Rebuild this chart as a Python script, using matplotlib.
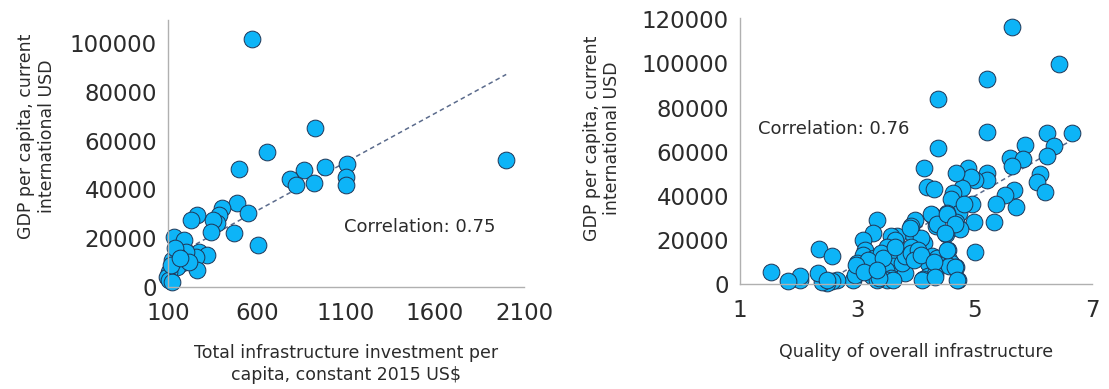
import matplotlib
matplotlib.use('Agg')
import matplotlib.pyplot as plt

# left panel: infrastructure investment per capita vs GDP per capita
invest_x = [571, 924, 658, 500, 2000, 981, 864, 783, 819, 920, 1106, 1098, 1098,
            490, 547, 406, 387, 378, 350, 340, 265, 228, 472, 603, 134, 190, 275,
            321, 256, 200, 152, 124, 181, 152, 265, 106, 96, 106, 124, 218, 140,
            115, 170]
invest_gdp = [101700, 65000, 55400, 48500, 51900, 49200, 48100, 44400, 41600, 42600,
              50200, 45100, 41900, 34300, 30200, 32200, 29500, 26100, 27500, 22700,
              29500, 27500, 22000, 17200, 20600, 19300, 14500, 13100, 12400, 14500,
              13100, 11100, 9700, 8300, 7000, 6300, 4200, 2900, 2200, 10400, 16000,
              9000, 12000]
invest_trend_x = [100, 2000]
invest_trend_y = [11300, 87100]

# right panel: quality of overall infrastructure vs GDP per capita
quality_x = [5.63, 6.43, 5.21, 4.37, 5.21, 6.66, 6.24, 4.37, 6.36, 5.86, 6.23, 5.60,
             5.83, 5.64, 6.11, 6.06, 6.20, 5.67, 5.70, 5.52, 5.37, 5.33, 5.21, 5.21,
             5.00, 4.88, 5.00, 4.93, 4.96, 4.99, 4.78, 4.69, 4.63, 4.60, 4.74, 4.69,
             4.75, 4.53, 4.51, 4.34, 4.27, 4.13, 4.18, 4.30, 3.99, 3.91, 3.94, 4.14,
             4.08, 3.91, 3.96, 4.09, 4.27, 4.36, 4.21, 4.20, 4.33, 4.12, 4.54, 4.57,
             4.60, 4.68, 4.71, 4.56, 3.67, 3.58, 3.64, 3.51, 3.64, 3.61, 3.49, 3.58,
             3.51, 3.82, 3.76, 3.82, 3.91, 3.33, 3.27, 3.10, 3.13, 3.10, 3.28, 3.34,
             3.40, 3.25, 3.34, 3.00, 2.93, 2.96, 2.66, 2.57, 2.48, 2.39, 2.33, 2.34,
             2.57, 2.03, 2.03, 1.82, 1.53, 3.19, 3.43, 4.03, 3.97, 2.97, 3.60, 3.37,
             3.90, 4.08, 4.30, 4.10, 4.33, 4.25, 4.36, 4.53, 4.67, 4.50, 4.53, 4.67,
             4.70, 4.81, 3.65, 3.11, 2.49, 3.34]
quality_gdp = [116500, 99600, 92900, 84000, 69000, 68600, 68600, 61700, 62700, 63000,
               58000, 57000, 56500, 53500, 49900, 46400, 41500, 42700, 34800, 40400,
               36200, 28300, 50200, 47200, 14500, 52500, 47200, 48700, 36300, 27900,
               43400, 50200, 41200, 38400, 32100, 27900, 24900, 32100, 22800, 26400,
               31400, 52500, 44200, 43000, 29100, 26100, 23100, 18800, 20800, 17000,
               13300, 12500, 12500, 11800, 9500, 3500, 4700, 2300, 15500, 11000,
               9500, 7700, 2000, 8000, 21600, 21600, 20000, 17000, 12500, 8000,
               6500, 2700, 2000, 5000, 9500, 12500, 14000, 29100, 23100, 20000,
               15500, 13300, 11800, 9500, 14000, 3500, 2000, 9500, 2000, 4200,
               2000, 1200, 450, 750, 5000, 15800, 12800, 2000, 3500, 1500,
               5300, 11000, 11800, 15500, 11000, 8600, 1800, 2600, 25200, 13200,
               10200, 1800, 3300, 31900, 27400, 31900, 27400, 23000, 15500, 7800,
               1800, 36400, 16800, 5600, 1800, 6300]
quality_trend_x = [2.4, 6.66]
quality_trend_y = [0, 65300]

dot_color = '#0db4f7'
edge_color = '#1f3556'
trend_color = '#5b6b8c'
text_color = '#2b2b2b'
spine_color = '#b0b0b0'

fig = plt.figure(figsize=(11.09, 3.89), dpi=100)
ax1 = fig.add_axes([168/1109, 102/389, 356/1109, 267/389])
ax2 = fig.add_axes([740/1109, 105/389, 352/1109, 266/389])


def style(ax):
    for s in ['top', 'right']:
        ax.spines[s].set_visible(False)
    for s in ['left', 'bottom']:
        ax.spines[s].set_color(spine_color)
        ax.spines[s].set_linewidth(1.0)
    ax.tick_params(axis='both', length=0, labelsize=16.5, labelcolor=text_color)
    ax.tick_params(axis='x', pad=11)
    ax.tick_params(axis='y', pad=8)


ax1.plot(invest_trend_x, invest_trend_y, color=trend_color, lw=1.1, dashes=(3, 2.2), zorder=1)
ax1.scatter(invest_x, invest_gdp, s=145, color=dot_color, edgecolor=edge_color,
            linewidth=0.7, zorder=2, clip_on=False)
ax1.set_xlim(100, 2100)
ax1.set_ylim(0, 109400)
ax1.set_xticks([100, 600, 1100, 1600, 2100])
ax1.set_yticks([0, 20000, 40000, 60000, 80000, 100000])
ax1.text(1086, 24700, 'Correlation: 0.75', fontsize=13, color=text_color, va='center')
style(ax1)

ax2.plot(quality_trend_x, quality_trend_y, color=trend_color, lw=1.1, dashes=(3, 2.2), zorder=1)
ax2.scatter(quality_x, quality_gdp, s=145, color=dot_color, edgecolor=edge_color,
            linewidth=0.7, zorder=2, clip_on=False)
ax2.set_xlim(1, 7)
ax2.set_ylim(0, 120600)
ax2.set_xticks([1, 3, 5, 7])
ax2.set_yticks([0, 20000, 40000, 60000, 80000, 100000, 120000])
ax2.text(1.31, 70400, 'Correlation: 0.76', fontsize=13, color=text_color, va='center')
style(ax2)

fig.text(36.5/1109, 1 - 136/389, 'GDP per capita, current\ninternational USD',
         rotation=90, ha='center', va='center', fontsize=12.5, color=text_color,
         linespacing=1.2)
fig.text(602/1109, 1 - 138/389, 'GDP per capita, current\ninternational USD',
         rotation=90, ha='center', va='center', fontsize=12.5, color=text_color,
         linespacing=1.2)
fig.text(346/1109, 1 - 364/389, 'Total infrastructure investment per\ncapita, constant 2015 US$',
         ha='center', va='center', fontsize=12.5, color=text_color, linespacing=1.25)
fig.text(916/1109, 1 - 352/389, 'Quality of overall infrastructure',
         ha='center', va='center', fontsize=12.5, color=text_color)

fig.savefig('out.png', dpi=100, facecolor='white')
